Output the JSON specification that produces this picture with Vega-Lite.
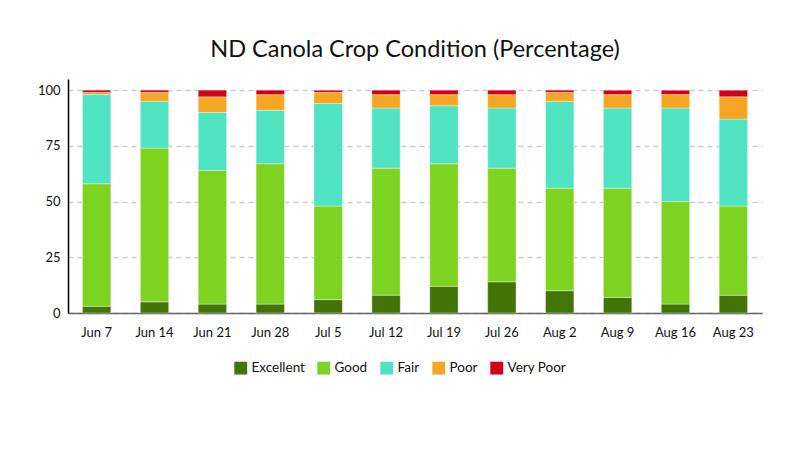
{
  "$schema": "https://vega.github.io/schema/vega-lite/v6.json",
  "autosize": {"type": "none"},
  "width": 694,
  "height": 234,
  "padding": {"left": 68, "top": 79, "right": 38, "bottom": 137},
  "background": "white",
  "title": {
    "text": "ND Canola Crop Condition (Percentage)",
    "font": "Lato",
    "fontSize": 23.5,
    "fontWeight": "normal",
    "color": "#111111",
    "offset": 18
  },
  "data": {
    "values": [
      {"week": "Jun 7", "cond": "Excellent", "o": 1, "v": 3},
      {"week": "Jun 7", "cond": "Good", "o": 2, "v": 55},
      {"week": "Jun 7", "cond": "Fair", "o": 3, "v": 40},
      {"week": "Jun 7", "cond": "Poor", "o": 4, "v": 1},
      {"week": "Jun 7", "cond": "Very Poor", "o": 5, "v": 1},
      {"week": "Jun 14", "cond": "Excellent", "o": 1, "v": 5},
      {"week": "Jun 14", "cond": "Good", "o": 2, "v": 69},
      {"week": "Jun 14", "cond": "Fair", "o": 3, "v": 21},
      {"week": "Jun 14", "cond": "Poor", "o": 4, "v": 4},
      {"week": "Jun 14", "cond": "Very Poor", "o": 5, "v": 1},
      {"week": "Jun 21", "cond": "Excellent", "o": 1, "v": 4},
      {"week": "Jun 21", "cond": "Good", "o": 2, "v": 60},
      {"week": "Jun 21", "cond": "Fair", "o": 3, "v": 26},
      {"week": "Jun 21", "cond": "Poor", "o": 4, "v": 7},
      {"week": "Jun 21", "cond": "Very Poor", "o": 5, "v": 3},
      {"week": "Jun 28", "cond": "Excellent", "o": 1, "v": 4},
      {"week": "Jun 28", "cond": "Good", "o": 2, "v": 63},
      {"week": "Jun 28", "cond": "Fair", "o": 3, "v": 24},
      {"week": "Jun 28", "cond": "Poor", "o": 4, "v": 7},
      {"week": "Jun 28", "cond": "Very Poor", "o": 5, "v": 2},
      {"week": "Jul 5", "cond": "Excellent", "o": 1, "v": 6},
      {"week": "Jul 5", "cond": "Good", "o": 2, "v": 42},
      {"week": "Jul 5", "cond": "Fair", "o": 3, "v": 46},
      {"week": "Jul 5", "cond": "Poor", "o": 4, "v": 5},
      {"week": "Jul 5", "cond": "Very Poor", "o": 5, "v": 1},
      {"week": "Jul 12", "cond": "Excellent", "o": 1, "v": 8},
      {"week": "Jul 12", "cond": "Good", "o": 2, "v": 57},
      {"week": "Jul 12", "cond": "Fair", "o": 3, "v": 27},
      {"week": "Jul 12", "cond": "Poor", "o": 4, "v": 6},
      {"week": "Jul 12", "cond": "Very Poor", "o": 5, "v": 2},
      {"week": "Jul 19", "cond": "Excellent", "o": 1, "v": 12},
      {"week": "Jul 19", "cond": "Good", "o": 2, "v": 55},
      {"week": "Jul 19", "cond": "Fair", "o": 3, "v": 26},
      {"week": "Jul 19", "cond": "Poor", "o": 4, "v": 5},
      {"week": "Jul 19", "cond": "Very Poor", "o": 5, "v": 2},
      {"week": "Jul 26", "cond": "Excellent", "o": 1, "v": 14},
      {"week": "Jul 26", "cond": "Good", "o": 2, "v": 51},
      {"week": "Jul 26", "cond": "Fair", "o": 3, "v": 27},
      {"week": "Jul 26", "cond": "Poor", "o": 4, "v": 6},
      {"week": "Jul 26", "cond": "Very Poor", "o": 5, "v": 2},
      {"week": "Aug 2", "cond": "Excellent", "o": 1, "v": 10},
      {"week": "Aug 2", "cond": "Good", "o": 2, "v": 46},
      {"week": "Aug 2", "cond": "Fair", "o": 3, "v": 39},
      {"week": "Aug 2", "cond": "Poor", "o": 4, "v": 4},
      {"week": "Aug 2", "cond": "Very Poor", "o": 5, "v": 1},
      {"week": "Aug 9", "cond": "Excellent", "o": 1, "v": 7},
      {"week": "Aug 9", "cond": "Good", "o": 2, "v": 49},
      {"week": "Aug 9", "cond": "Fair", "o": 3, "v": 36},
      {"week": "Aug 9", "cond": "Poor", "o": 4, "v": 6},
      {"week": "Aug 9", "cond": "Very Poor", "o": 5, "v": 2},
      {"week": "Aug 16", "cond": "Excellent", "o": 1, "v": 4},
      {"week": "Aug 16", "cond": "Good", "o": 2, "v": 46},
      {"week": "Aug 16", "cond": "Fair", "o": 3, "v": 42},
      {"week": "Aug 16", "cond": "Poor", "o": 4, "v": 6},
      {"week": "Aug 16", "cond": "Very Poor", "o": 5, "v": 2},
      {"week": "Aug 23", "cond": "Excellent", "o": 1, "v": 8},
      {"week": "Aug 23", "cond": "Good", "o": 2, "v": 40},
      {"week": "Aug 23", "cond": "Fair", "o": 3, "v": 39},
      {"week": "Aug 23", "cond": "Poor", "o": 4, "v": 10},
      {"week": "Aug 23", "cond": "Very Poor", "o": 5, "v": 3}
    ]
  },
  "mark": {"type": "bar", "stroke": "white", "strokeWidth": 1, "strokeOpacity": 0.35},
  "encoding": {
    "x": {
      "field": "week",
      "type": "ordinal",
      "sort": null,
      "scale": {"paddingInner": 0.51, "paddingOuter": 0.25},
      "axis": {
        "title": null,
        "labelAngle": 0,
        "labelFont": "Lato",
        "labelFontSize": 13,
        "labelColor": "#111111",
        "labelPadding": 13,
        "ticks": false,
        "domainColor": "#666666",
        "domainWidth": 1.5
      }
    },
    "y": {
      "field": "v",
      "type": "quantitative",
      "stack": "zero",
      "scale": {"domain": [0, 105], "nice": false},
      "axis": {
        "title": null,
        "values": [0, 25, 50, 75, 100],
        "labelFont": "Lato",
        "labelFontSize": 13,
        "labelColor": "#111111",
        "labelPadding": 8,
        "ticks": false,
        "domainColor": "#000000",
        "domainWidth": 1.5,
        "gridColor": "#cccccc",
        "gridDash": [5, 4],
        "gridWidth": 1.5
      }
    },
    "color": {
      "field": "cond",
      "type": "nominal",
      "sort": ["Excellent", "Good", "Fair", "Poor", "Very Poor"],
      "scale": {
        "domain": ["Excellent", "Good", "Fair", "Poor", "Very Poor"],
        "range": ["#427505", "#7ed321", "#50e3c2", "#f5a623", "#d0021b"]
      },
      "legend": {
        "title": null,
        "orient": "none",
        "legendX": 166,
        "legendY": 282,
        "direction": "horizontal",
        "symbolType": "square",
        "symbolSize": 165,
        "symbolStrokeWidth": 0,
        "symbolOpacity": 1,
        "labelFont": "Lato",
        "labelFontSize": 13.5,
        "labelColor": "#111111",
        "columnPadding": 12
      }
    },
    "order": {"field": "o", "type": "quantitative"}
  },
  "config": {"view": {"stroke": null}}
}
